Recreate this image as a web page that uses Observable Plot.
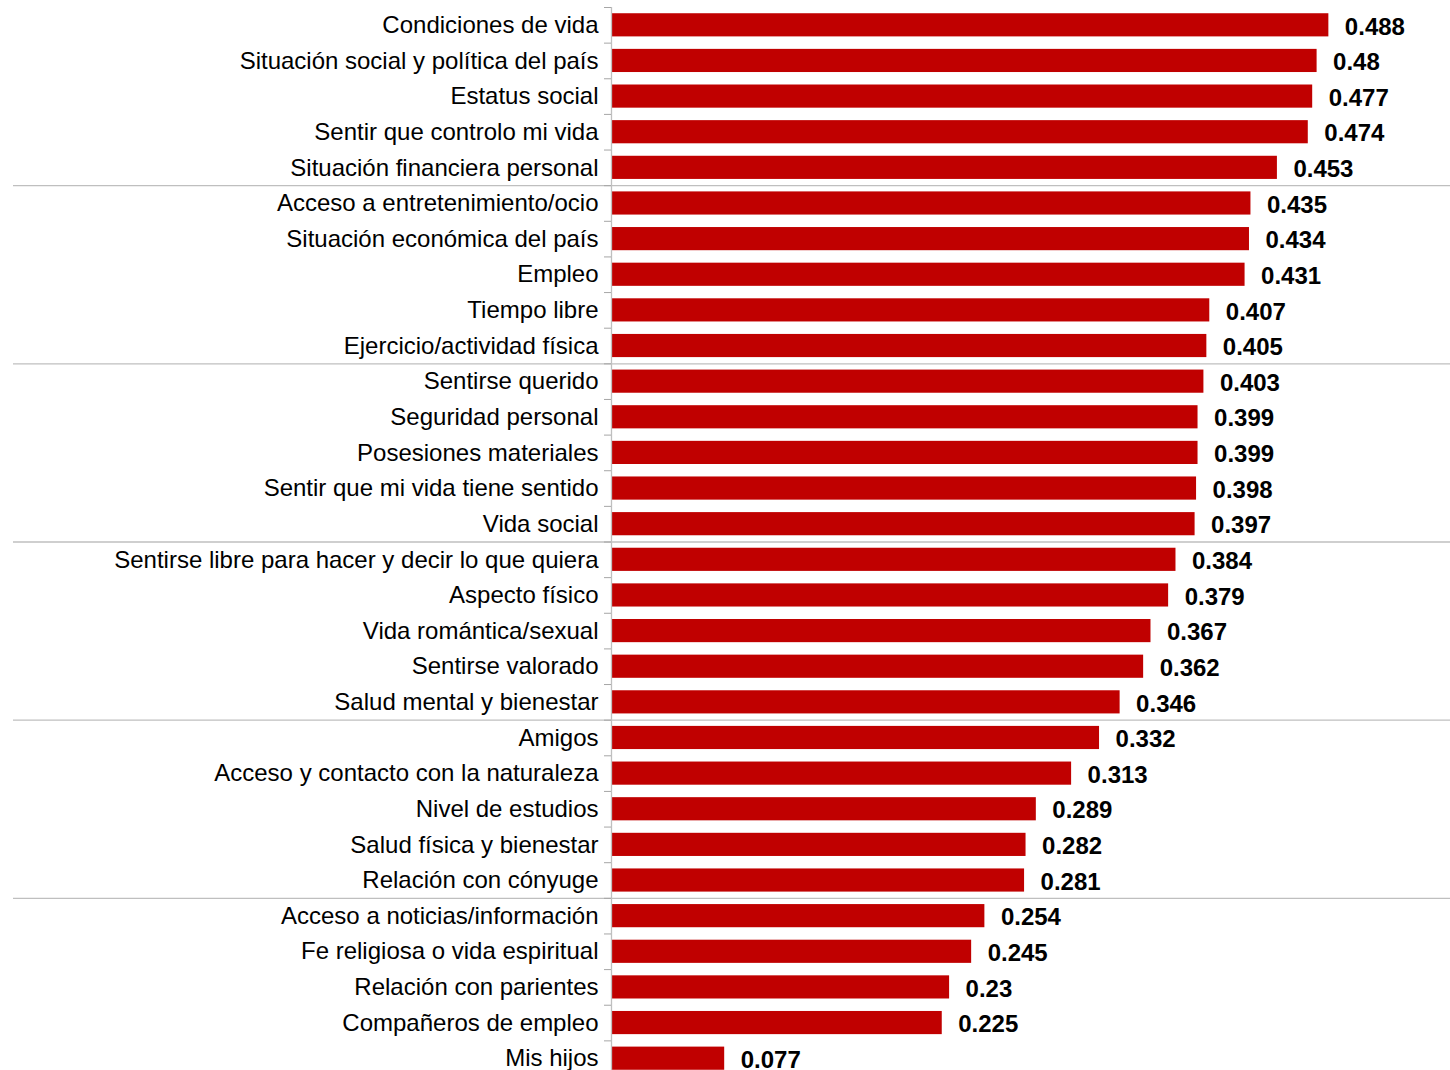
<!DOCTYPE html>
<html>
<head>
<meta charset="utf-8">
<script src="https://cdn.jsdelivr.net/npm/d3@7"></script>
<script src="https://cdn.jsdelivr.net/npm/@observablehq/plot@0.6"></script>
<style>
  html, body { margin: 0; padding: 0; background: #fff; overflow: hidden; }
  svg { font-family: "Liberation Sans", Arial, sans-serif; display: block; }
</style>
</head>
<body>
<div id="chart"></div>
<script>
const categories = [
  "Condiciones de vida",
  "Situación social y política del país",
  "Estatus social",
  "Sentir que controlo mi vida",
  "Situación financiera personal",
  "Acceso a entretenimiento/ocio",
  "Situación económica del país",
  "Empleo",
  "Tiempo libre",
  "Ejercicio/actividad física",
  "Sentirse querido",
  "Seguridad personal",
  "Posesiones materiales",
  "Sentir que mi vida tiene sentido",
  "Vida social",
  "Sentirse libre para hacer y decir lo que quiera",
  "Aspecto físico",
  "Vida romántica/sexual",
  "Sentirse valorado",
  "Salud mental y bienestar",
  "Amigos",
  "Acceso y contacto con la naturaleza",
  "Nivel de estudios",
  "Salud física y bienestar",
  "Relación con cónyuge",
  "Acceso a noticias/información",
  "Fe religiosa o vida espiritual",
  "Relación con parientes",
  "Compañeros de empleo",
  "Mis hijos"
];
const values = [0.488, 0.48, 0.477, 0.474, 0.453, 0.435, 0.434, 0.431, 0.407, 0.405,
                0.403, 0.399, 0.399, 0.398, 0.397, 0.384, 0.379, 0.367, 0.362, 0.346,
                0.332, 0.313, 0.289, 0.282, 0.281, 0.254, 0.245, 0.23, 0.225, 0.077];
const groupEnds = ["Situación financiera personal", "Ejercicio/actividad física", "Vida social",
                   "Salud mental y bienestar", "Relación con cónyuge"];

const data = categories.map((c, i) => ({cat: c, value: values[i]}));

const chartH = 1076, chartTop = 7;
const band = (chartH - chartTop) / categories.length;

const chart = Plot.plot({
  width: 1450,
  height: chartH,
  marginTop: chartTop,
  marginBottom: 0,
  marginLeft: 611,
  marginRight: 0,
  style: {fontFamily: '"Liberation Sans", Arial, sans-serif', background: "#fff"},
  x: {domain: [0, 0.5], range: [611, 611 + 0.5 * 1470], axis: null},
  y: {domain: categories, paddingInner: 0.35, paddingOuter: 0.175, round: false, axis: null},
  marks: [
    Plot.ruleY(groupEnds, {y: d => d, dy: band / 2, stroke: "#bfbfbf", strokeWidth: 1.3, insetLeft: -598}),
    Plot.barX(data, {y: "cat", x: "value", fill: "#C00000"}),
    Plot.ruleX([0], {stroke: "#bfbfbf", strokeWidth: 1.3}),
    Plot.axisY({tickSize: 7, tickFormat: () => "", label: null, dy: -band / 2, stroke: "#a6a6a6"}),
    Plot.axisY({tickSize: 0, tickPadding: 13, label: null, fontSize: 24, fill: "#000", textAnchor: "end"}),
    Plot.text(data, {y: "cat", x: "value", text: d => String(d.value), textAnchor: "start", dx: 16, dy: 1.5,
                     fontSize: 24, fontWeight: "bold", fill: "#000"})
  ]
});
document.getElementById("chart").appendChild(chart);
</script>
</body>
</html>
